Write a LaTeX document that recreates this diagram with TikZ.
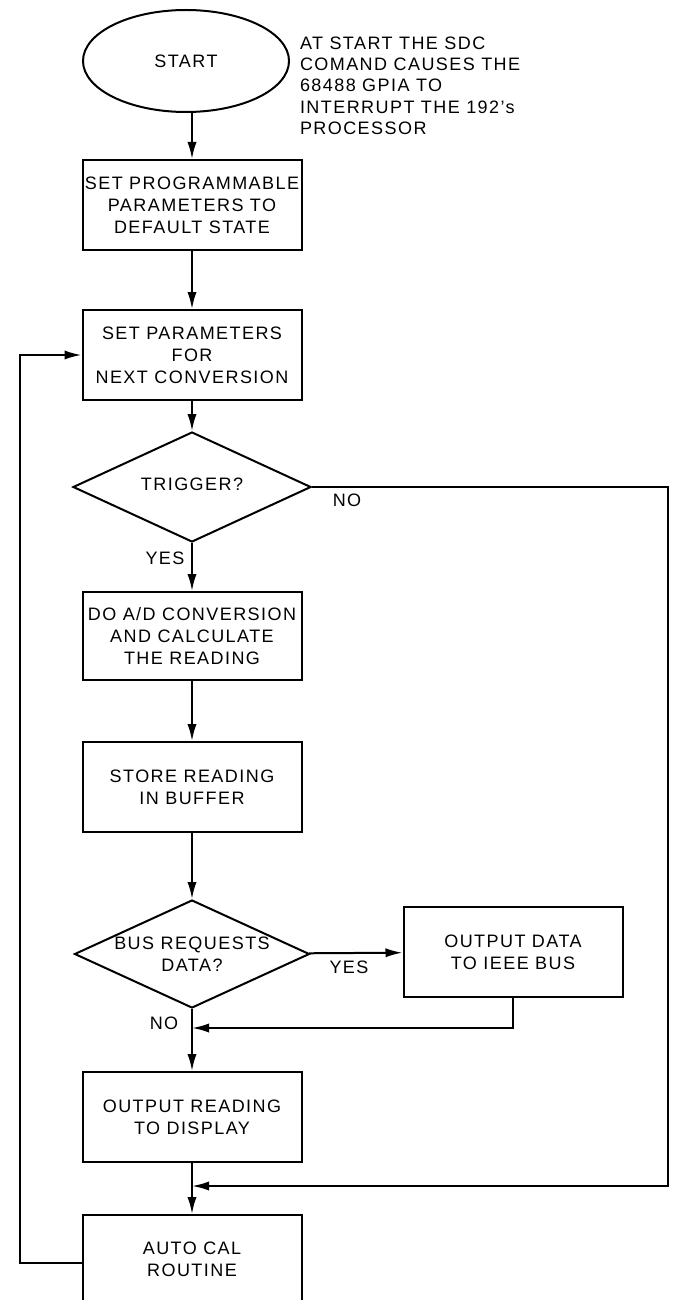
\documentclass[tikz,border=0pt]{standalone}
\usepackage{fontspec}
\setsansfont{Liberation Sans}[LetterSpace=8]
\usetikzlibrary{arrows.meta, shapes.geometric}

\begin{document}
\begin{tikzpicture}[
    x=0.5pt, y=-0.5pt,
    every node/.style={font=\sffamily\fontsize{9}{11}\selectfont},
    >={Latex[length=8.5pt, width=4.6pt]},
    line width=1pt,
    procbox/.style={draw, minimum width=109.5pt, minimum height=45pt,
        align=center, inner sep=0pt},
    decision/.style={draw, diamond, aspect=2.15, minimum width=119pt,
        minimum height=55pt, align=center, inner sep=0pt},
    flowlabel/.style={inner sep=0pt},
]
\useasboundingbox (0,0) rectangle (675,1300);

% === Start and note ===
\node[draw, ellipse, minimum width=103pt, minimum height=51pt] (start) at (186,61) {START};
\node[anchor=north west, align=left, inner sep=0pt,
    font=\sffamily\fontsize{9}{10.6}\selectfont] (note) at (299,36)
    {AT START THE SDC\\COMAND CAUSES THE\\68488 GPIA TO\\INTERRUPT THE 192's\\PROCESSOR};

% === Main column ===
\node[procbox] (setdef) at (192,205) {SET PROGRAMMABLE\\PARAMETERS TO\\DEFAULT STATE};
\node[procbox] (setpar) at (192,355) {SET PARAMETERS\\FOR\\NEXT CONVERSION};
\node[decision] (trigger) at (192,487) {\raisebox{3pt}{TRIGGER?}};
\node[procbox, minimum height=44pt] (convert) at (192,636) {DO A/D CONVERSION\\AND CALCULATE\\THE READING};
\node[procbox] (store) at (192,787) {STORE READING\\IN BUFFER};
\node[decision, minimum width=117.5pt, minimum height=54pt] (busreq) at (192,954) {BUS REQUESTS\\DATA?};
\node[procbox] (outdata) at (513,952) {OUTPUT DATA\\TO IEEE BUS};
\node[procbox] (outread) at (192,1117) {OUTPUT READING\\TO DISPLAY};
\node[procbox, minimum height=44pt] (autocal) at (192,1259) {AUTO CAL\\ROUTINE};

% === Branch labels ===
\node[flowlabel] (trigno) at (347,500) {NO};
\node[flowlabel] (trigyes) at (165,558) {YES};
\node[flowlabel] (busyes) at (349,967) {YES};
\node[flowlabel] (busno) at (164,1023) {NO};

% === Join points ===
\coordinate (joinbus) at (192,1028);
\coordinate (joincal) at (192,1186);
\coordinate (rightrail) at (668,487);
\coordinate (leftrail) at (20,1263);

% === Connectors ===
\draw[->] (start.south -| setdef.north) -- (setdef);
\draw[->] (setdef) -- (setpar);
\draw[->] (setpar) -- (trigger);
\draw[->] (trigger) -- (convert);
\draw[->] (convert) -- (store);
\draw[->] (store) -- (busreq);
\draw[->] (busreq) -- (outdata);
\draw[->] (outdata.south) |- (joinbus);
\draw[->] (busreq) -- (outread);
\draw[->] (trigger.east) -- (rightrail) |- (joincal);
\draw[->] (outread) -- (autocal);
\draw[->] (autocal.west |- leftrail) -- (leftrail) |- (setpar.west);

\end{tikzpicture}
\end{document}
